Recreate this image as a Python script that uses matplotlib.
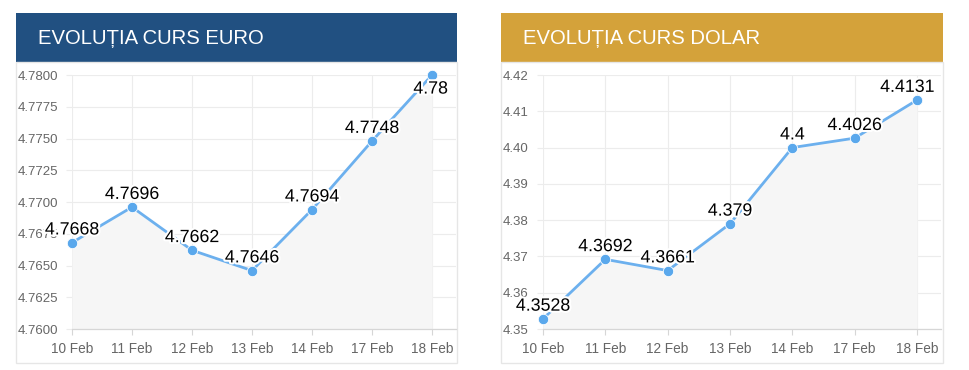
import matplotlib
matplotlib.use("Agg")
import matplotlib.pyplot as plt
from matplotlib.patches import Rectangle
from matplotlib.ticker import FormatStrFormatter
import matplotlib.patheffects as pe
import numpy as np

plt.rcParams['font.family'] = ['Liberation Sans', 'DejaVu Sans']

# ---------------- data ----------------
dates = ["10 Feb", "11 Feb", "12 Feb", "13 Feb", "14 Feb", "17 Feb", "18 Feb"]
euro_values = [4.7668, 4.7696, 4.7662, 4.7646, 4.7694, 4.7748, 4.78]
euro_labels = ["4.7668", "4.7696", "4.7662", "4.7646", "4.7694", "4.7748", "4.78"]
euro_yticks = [4.76, 4.7625, 4.765, 4.7675, 4.77, 4.7725, 4.775, 4.7775, 4.78]
dolar_values = [4.3528, 4.3692, 4.3661, 4.379, 4.4, 4.4026, 4.4131]
dolar_labels = ["4.3528", "4.3692", "4.3661", "4.379", "4.4", "4.4026", "4.4131"]
dolar_yticks = [4.35, 4.36, 4.37, 4.38, 4.39, 4.40, 4.41, 4.42]
titles = ["EVOLUȚIA CURS EURO", "EVOLUȚIA CURS DOLAR"]

W, H = 970, 370
fig = plt.figure(figsize=(W / 100, H / 100), dpi=100)
fig.patch.set_facecolor("white")


def px_rect(x0, y0, x1, y1):
    return (x0 / W, 1 - y1 / H, (x1 - x0) / W, (y1 - y0) / H)


LINE = "#6cb0ee"
MARK = "#5aa8ec"
GRID = "#ececec"
TICKC = "#666666"


def panel(px, header_color, title, values, labels, yticks, fmt, ylim,
          ax_px, label_offsets):
    x0, x1 = px
    # header
    l, b, w, h = px_rect(x0, 13, x1, 62)
    fig.add_artist(Rectangle((l, b), w, h, transform=fig.transFigure,
                             facecolor=header_color, edgecolor="none", zorder=0))
    fig.text((x0 + 22) / W, 1 - 38 / H, title, color="white", fontsize=14.6,
             va="center", ha="left")
    # border of panel
    l, b, w, h = px_rect(x0, 62, x1, 363)
    fig.add_artist(Rectangle((l, b), w, h, transform=fig.transFigure,
                             facecolor="none", edgecolor="#e6e6e6", lw=1, zorder=0))
    ax = fig.add_axes(px_rect(*ax_px))
    ax.set_facecolor("none")
    xs = np.arange(len(values))
    spacing = (ax_px[2] - ax_px[0])
    xmax = 6 + 24 / ((spacing - 24) / 6)
    ax.set_xlim(0, xmax)
    ax.set_ylim(*ylim)
    ax.fill_between(xs, values, ylim[0], color="#f6f6f6", zorder=1, lw=0)
    ax.plot(xs, values, color=LINE, lw=2.0, zorder=3, clip_on=False)
    ax.plot(xs, values, "o", color=MARK, ms=7.5, zorder=4, clip_on=False,
            mec="white", mew=0.6)
    for xi, v, t, off in zip(xs, values, labels, label_offsets):
        dx, dy, va = off
        ax.annotate(t, (xi, v), xytext=(dx, dy), textcoords="offset points",
                    ha="center", va=va, fontsize=12.8, color="black", zorder=5,
                    annotation_clip=False,
                    path_effects=[pe.withStroke(linewidth=3, foreground="white")])
    ax.set_xticks(xs)
    ax.set_xticklabels(dates)
    ax.set_yticks(yticks)
    ax.yaxis.set_major_formatter(FormatStrFormatter(fmt))
    ax.grid(True, color=GRID, lw=0.8, zorder=0)
    ax.set_axisbelow(True)
    for s in ["top", "right", "left"]:
        ax.spines[s].set_visible(False)
    ax.spines["bottom"].set_color("#d6d6d6")
    ax.spines["bottom"].set_linewidth(0.9)
    ax.tick_params(axis="y", length=4.3, width=0.8, color=GRID, pad=6,
                   labelsize=9.5, labelcolor=TICKC)
    ax.tick_params(axis="x", length=4.3, width=0.8, color="#d6d6d6", pad=5,
                   labelsize=9.8, labelcolor=TICKC)
    return ax


euro_offsets = [(0, 3, "bottom")] * 6 + [(-1, -4, "top")]
panel((16, 457), "#215081", titles[0], euro_values, euro_labels, euro_yticks,
      "%.4f", (4.76, 4.78), (72, 75, 456, 329), euro_offsets)

dolar_offsets = [(0, 3, "bottom")] * 6 + [(-7, 3, "bottom")]
panel((501, 943), "#d4a23a", titles[1], dolar_values, dolar_labels, dolar_yticks,
      "%.2f", (4.35, 4.42), (543, 75, 941, 329), dolar_offsets)

fig.savefig("out.png", dpi=100, facecolor="white")
